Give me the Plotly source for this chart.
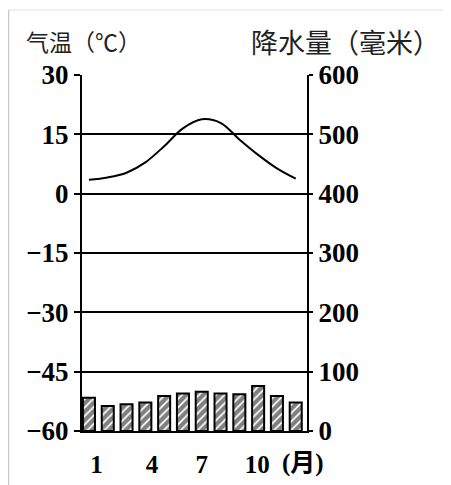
import plotly.graph_objects as go

months = [1, 2, 3, 4, 5, 6, 7, 8, 9, 10, 11, 12]
temperature = [3.5, 4.1, 5.3, 7.9, 12.0, 16.5, 18.8, 17.9, 13.7, 9.8, 6.4, 3.8]
precipitation = [56, 42, 45, 48, 59, 63, 66, 63, 62, 76, 59, 48]
month_tick_pos = [1.4, 4.35, 7, 9.95]
month_tick_text = ["1", "4", "7", "10"]
temp_ticks = [-60, -45, -30, -15, 0, 15, 30]
precip_ticks = [0, 100, 200, 300, 400, 500, 600]

# page body has an 8px margin; the figure starts at (8, 8) of the window
OFF = 8
W, H = 451 - OFF, 485 - OFF
ML, MT = 82 - OFF, 75 - OFF
MR = W - (307 - OFF)
MB = H - (431 - OFF)
PW, PH = W - ML - MR, H - MT - MB

def px(x):
    return (x - OFF - ML) / PW

def py(y):
    return (H - MB - (y - OFF)) / PH

serif = "Liberation Serif, Noto Sans CJK SC, serif"
cjk = "Noto Sans CJK SC, sans-serif"

fig = go.Figure()
fig.add_trace(go.Bar(
    x=months, y=precipitation, yaxis="y2", width=0.64,
    marker=dict(color="white", line=dict(color="black", width=2),
                pattern=dict(shape="/", fgcolor="black", bgcolor="white",
                             size=6, solidity=0.7)),
    showlegend=False,
))
fig.add_trace(go.Scatter(
    x=months, y=temperature, mode="lines",
    line=dict(color="black", width=2, shape="spline", smoothing=1.0),
    showlegend=False,
))

fig.update_layout(
    width=W, height=H,
    margin=dict(l=ML, r=MR, t=MT, b=MB, autoexpand=False),
    paper_bgcolor="white", plot_bgcolor="white",
    xaxis=dict(range=[0.63, 12.6], tickvals=month_tick_pos, ticktext=month_tick_text,
               showgrid=False, zeroline=False, showline=True, linecolor="black",
               linewidth=2, ticks="", ticklabelstandoff=10, automargin=False,
               tickfont=dict(family=serif, size=25, color="black", weight="bold")),
    yaxis=dict(range=[-60, 30], tickvals=temp_ticks, showgrid=True,
               gridcolor="black", gridwidth=1.5, zeroline=False,
               showline=True, linecolor="black", linewidth=2, automargin=False,
               ticks="outside", ticklen=6, tickwidth=1.5, tickcolor="black",
               tickfont=dict(family=serif, size=27, color="black", weight="bold")),
    yaxis2=dict(range=[0, 600], tickvals=precip_ticks, overlaying="y", side="right",
                showgrid=False, zeroline=False, showline=True, linecolor="black",
                linewidth=2, ticks="outside", ticklen=4, tickwidth=1.5,
                tickcolor="black", automargin=False,
                tickfont=dict(family=serif, size=27, color="black", weight="bold")),
    annotations=[
        dict(text="气温（℃）", xref="paper", yref="paper", x=px(83), y=py(41),
             showarrow=False, font=dict(family=cjk, size=23, color="#222"),
             xanchor="center", yanchor="middle"),
        dict(text="降水量（毫米）", xref="paper", yref="paper", x=px(345), y=py(41),
             showarrow=False, font=dict(family=cjk, size=27, color="#222"),
             xanchor="center", yanchor="middle"),
        dict(text="(月)", xref="paper", yref="paper", x=px(303), y=py(463),
             showarrow=False, font=dict(family=serif, size=25, color="black", weight="bold"),
             xanchor="center", yanchor="middle"),
    ],
    shapes=[
        dict(type="line", xref="paper", yref="paper", x0=px(8.5), x1=px(8.5),
             y0=py(10), y1=py(500), line=dict(color="#c8c8c8", width=1.5)),
        dict(type="line", xref="paper", yref="paper", x0=px(8.5), x1=px(460),
             y0=py(10), y1=py(10), line=dict(color="#e0e0e0", width=1)),
    ],
)

fig.write_html("out.html")
